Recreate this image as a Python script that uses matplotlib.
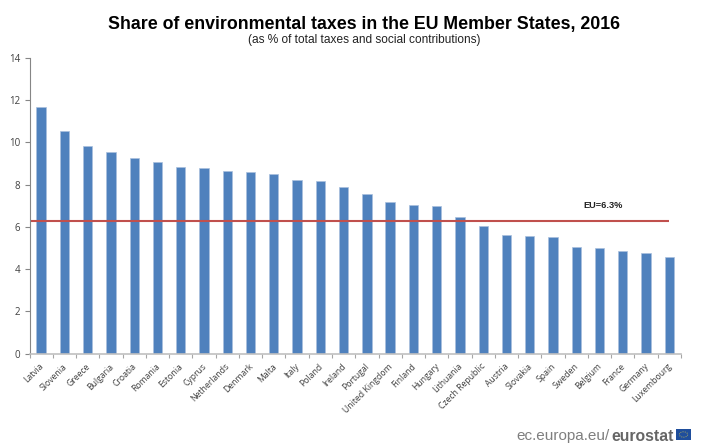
import matplotlib
matplotlib.use("Agg")
import matplotlib.pyplot as plt
from matplotlib.patches import Rectangle

countries = ["Latvia", "Slovenia", "Greece", "Bulgaria", "Croatia", "Romania", "Estonia",
             "Cyprus", "Netherlands", "Denmark", "Malta", "Italy", "Poland", "Ireland",
             "Portugal", "United Kingdom", "Finland", "Hungary", "Lithuania", "Czech Republic",
             "Austria", "Slovakia", "Spain", "Sweden", "Belgium", "France", "Germany", "Luxembourg"]
shares = [11.7, 10.55, 9.85, 9.55, 9.25, 9.05, 8.85, 8.8, 8.65, 8.6, 8.5, 8.2, 8.15, 7.9,
          7.55, 7.2, 7.05, 7.0, 6.45, 6.05, 5.6, 5.55, 5.5, 5.05, 5.0, 4.85, 4.75, 4.55]
eu_average = 6.3
y_ticks = [0, 2, 4, 6, 8, 10, 12, 14]

W, H = 703, 448
plt.rcParams["font.family"] = ["Open Sans", "DejaVu Sans"]
fig = plt.figure(figsize=(W / 100, H / 100), dpi=100)
ax = fig.add_axes([29.5 / W, 1 - 353.5 / H, (681 - 29.5) / W, (353.5 - 58) / H])

x = list(range(len(countries)))
ax.bar(x, shares, width=0.4, color="#4f81bd", edgecolor="#a9c0de", linewidth=0.5)
# red line stops at the last bar centre, not the axis end
ax.plot([-0.5, len(countries) - 1], [eu_average, eu_average], color="#c0504d", linewidth=1.5, solid_capstyle="butt")
ax.text(25.0, eu_average + 0.72, "EU=6.3%", fontsize=6.7, fontweight="bold", ha="right", va="center",
        color="#222222", family=["Liberation Sans"])

ax.set_xlim(-0.5, len(countries) - 0.5)
ax.set_ylim(0, 14)
ax.set_yticks(y_ticks)
ax.tick_params(axis="y", labelsize=7, labelcolor="#404040", color="#868686", length=3.5, width=0.8, pad=3)
ax.set_xticks([i - 0.5 for i in range(len(countries) + 1)], minor=False)
ax.set_xticklabels([""] * (len(countries) + 1))
ax.tick_params(axis="x", color="#a6a6a6", length=3, width=0.8)
for i, name in enumerate(countries):
    ax.annotate(name, (i, 0), xycoords=("data", "axes fraction"), xytext=(-1.5, -6), textcoords="offset points",
                rotation=45, rotation_mode="anchor", ha="right", va="top", fontsize=6.2, color="#404040")

for side in ["top", "right"]:
    ax.spines[side].set_visible(False)
ax.spines["left"].set_color("#868686")
ax.spines["bottom"].set_color("#c0c0c0")
ax.spines["bottom"].set_linewidth(1.2)

fig.text(364.5 / W, 1 - 24 / H, "Share of environmental taxes in the EU Member States, 2016", fontsize=12.8,
         fontweight="bold", ha="center", va="center", family=["Liberation Sans"], color="black")
fig.text(364 / W, 1 - 40.5 / H, "(as % of total taxes and social contributions)", fontsize=8.6,
         ha="center", va="center", family=["Liberation Sans"], color="#222222")

# eurostat footer
fig.text(516 / W, 1 - 436 / H, "ec.europa.eu/", fontsize=11, ha="left", va="center",
         family=["Liberation Sans"], color="#7f7f7f")
fig.text(674 / W, 1 - 436 / H, "eurostat", fontsize=11.3, fontweight="bold", ha="right", va="center",
         family=["Liberation Sans"], color="#666666")
fig.add_artist(Rectangle((676 / W, 1 - 440 / H), 15 / W, 11 / H, transform=fig.transFigure,
                         facecolor="#1f4e9c", edgecolor="none"))
fig.add_artist(plt.Circle((683.5 / W, 1 - 434.5 / H), 0.006, transform=fig.transFigure,
                          facecolor="none", edgecolor="#d9c94a", linewidth=0.6, linestyle=":"))

fig.savefig("out.png", dpi=100)
